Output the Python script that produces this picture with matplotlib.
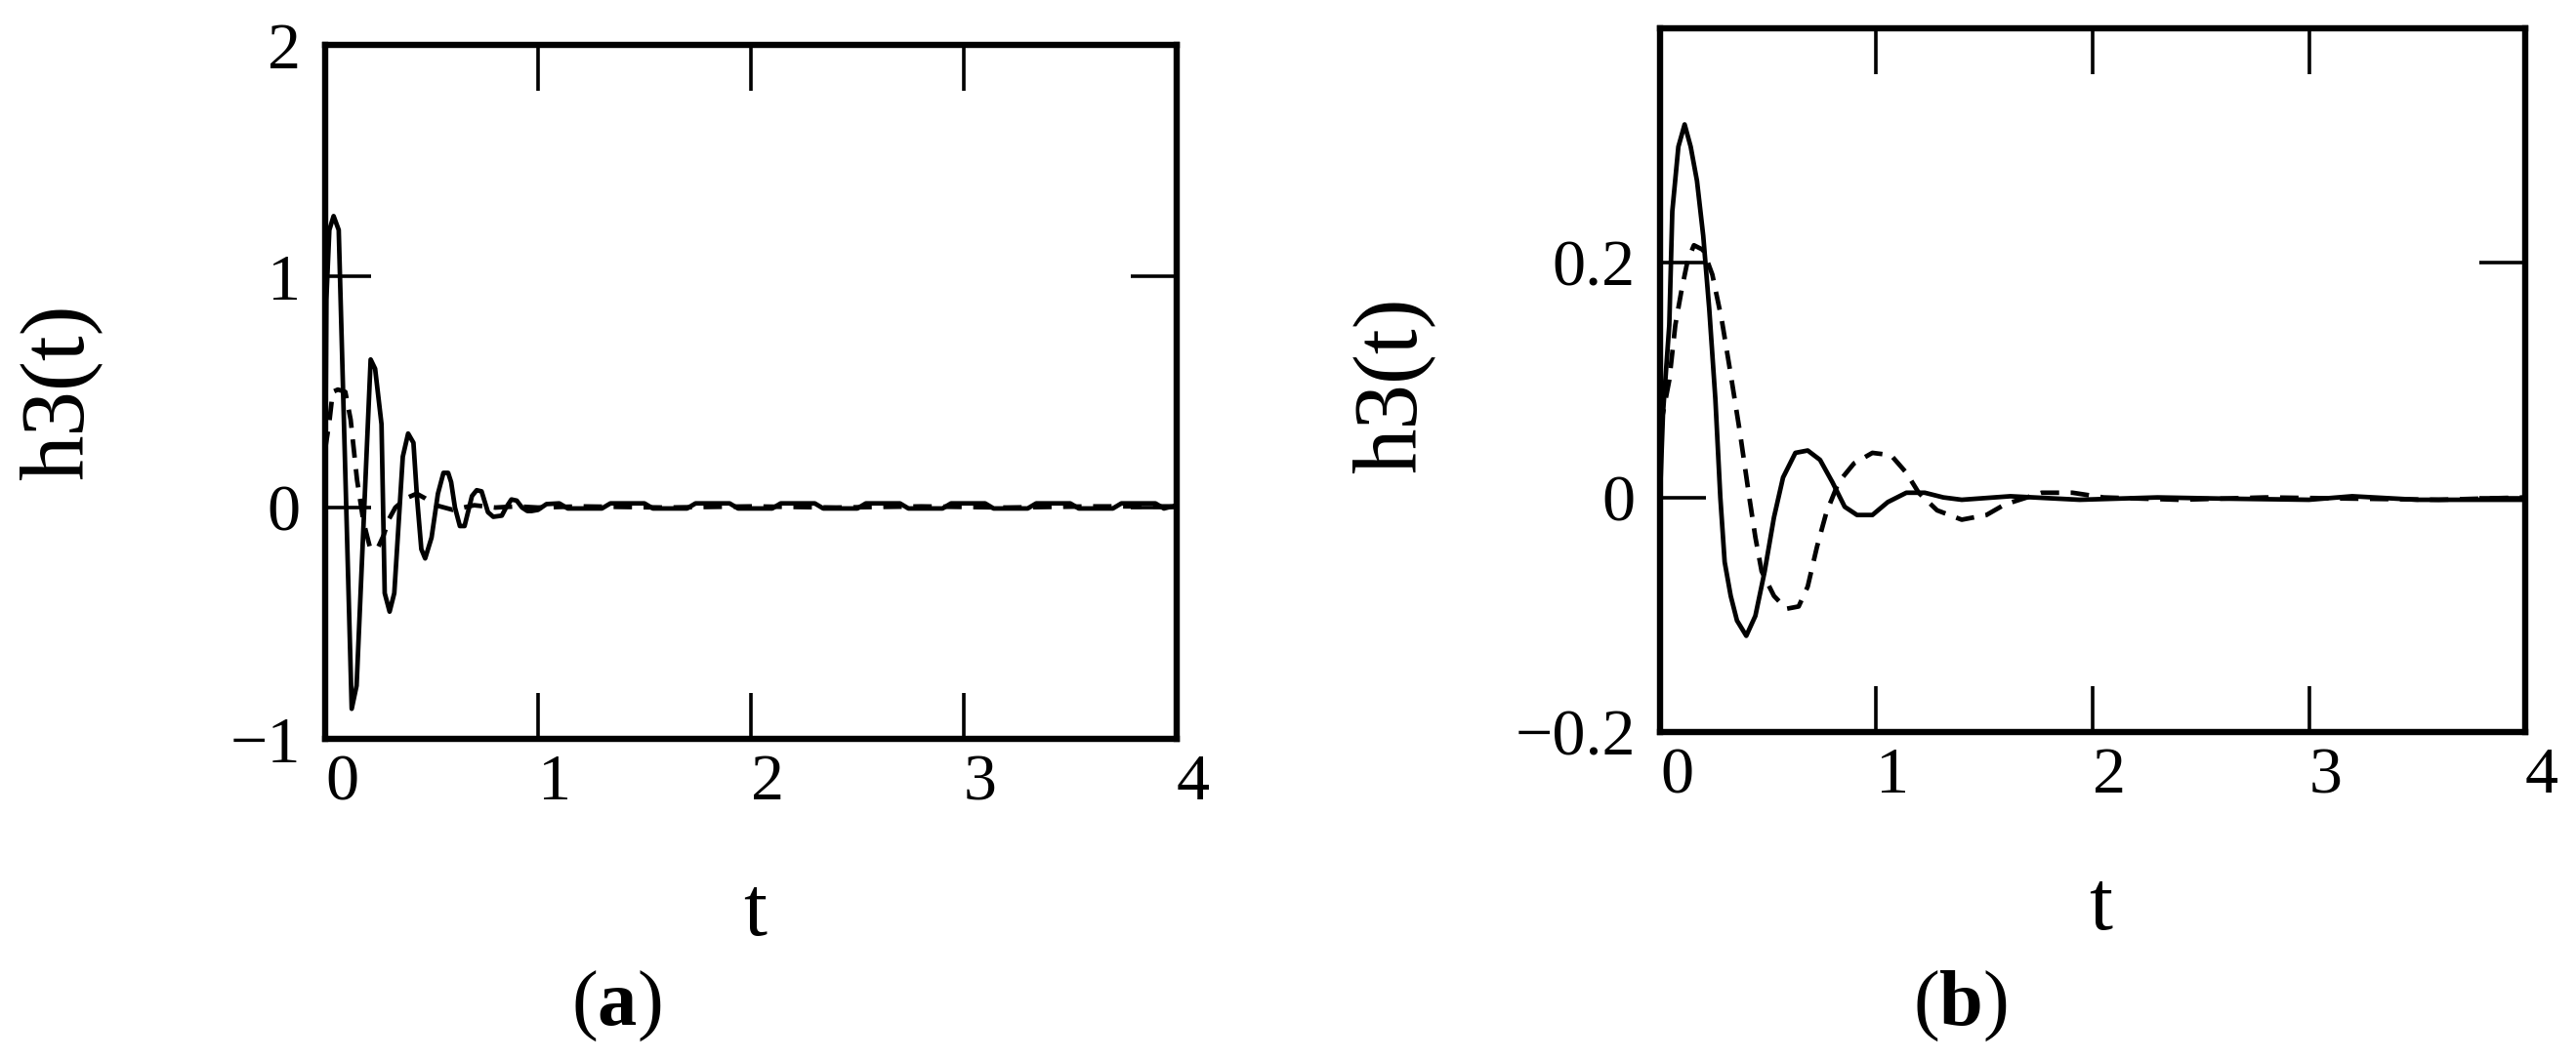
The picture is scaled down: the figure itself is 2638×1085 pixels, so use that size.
import matplotlib.pyplot as plt

plt.rcParams['font.family'] = ['Liberation Serif', 'DejaVu Serif']
plt.rcParams['mathtext.fontset'] = 'custom'
plt.rcParams['mathtext.rm'] = 'Liberation Serif'
plt.rcParams['mathtext.bf'] = 'Liberation Serif:bold'

# ---- panel (a): values ----
ta_solid = [0.0, 0.006, 0.02, 0.04, 0.064, 0.125, 0.148, 0.214, 0.235, 0.265, 0.28, 0.303,
            0.325, 0.365, 0.39, 0.415, 0.432, 0.452, 0.47, 0.5, 0.53, 0.556, 0.578, 0.592,
            0.61, 0.633, 0.655, 0.69, 0.712, 0.735, 0.765, 0.79, 0.83, 0.85, 0.875, 0.9,
            0.925, 0.95, 0.97, 1.0, 1.04,
            1.1, 1.14, 1.3, 1.34, 1.5, 1.54, 1.7, 1.74, 1.9, 1.94, 2.1, 2.14, 2.3, 2.34,
            2.5, 2.54, 2.7, 2.74, 2.9, 2.94, 3.1, 3.14, 3.3, 3.34, 3.5, 3.54, 3.7, 3.74,
            3.9, 3.94, 4.0]
ya_solid = [0.0, 0.9, 1.2, 1.26, 1.2, -0.87, -0.77, 0.64, 0.6, 0.36, -0.37, -0.45,
            -0.37, 0.22, 0.32, 0.28, 0.04, -0.18, -0.22, -0.13, 0.06, 0.15, 0.15, 0.11,
            0.0, -0.08, -0.08, 0.05, 0.075, 0.07, -0.02, -0.04, -0.035, 0.0, 0.035, 0.03,
            0.0, -0.015, -0.015, -0.01, 0.015,
            0.018, -0.004, -0.004, 0.018, 0.018, -0.004, -0.004, 0.018, 0.018, -0.004,
            -0.004, 0.018, 0.018, -0.004, -0.004, 0.018, 0.018, -0.004, -0.004, 0.018,
            0.018, -0.004, -0.004, 0.018, 0.018, -0.004, -0.004, 0.018, 0.018, -0.004,
            0.01]
ta_dash = [0.0, 0.02, 0.036, 0.06, 0.095, 0.12, 0.135, 0.15, 0.18, 0.21, 0.245, 0.275,
           0.3, 0.33, 0.38, 0.43, 0.47, 0.52, 0.6, 0.7, 0.8, 0.9, 1.0,
           1.2, 1.6, 2.0, 2.4, 2.8, 3.2, 3.6, 4.0]
ya_dash = [0.25, 0.37, 0.5, 0.51, 0.5, 0.38, 0.25, 0.12, -0.06, -0.17, -0.18, -0.12,
           -0.05, 0.0, 0.04, 0.06, 0.04, 0.01, -0.01, 0.01, 0.0, 0.005, 0.0,
           0.005, 0.0, 0.005, 0.0, 0.005, 0.0, 0.005, 0.005]

# ---- panel (b) ----
tb_solid = [0.0, 0.014, 0.043, 0.057, 0.085, 0.114, 0.142, 0.171, 0.2, 0.228, 0.256,
            0.279, 0.299, 0.327, 0.356, 0.399, 0.441, 0.484, 0.527, 0.569, 0.626, 0.683,
            0.74, 0.797, 0.854, 0.911, 0.982, 1.053, 1.139, 1.224, 1.31, 1.395, 1.62,
            1.94, 2.3, 2.6, 3.0, 3.2, 3.5, 4.0]
yb_solid = [0.0, 0.072, 0.147, 0.244, 0.299, 0.318, 0.299, 0.27, 0.223, 0.16, 0.084,
            0.0, -0.055, -0.084, -0.105, -0.118, -0.101, -0.063, -0.017, 0.017, 0.038,
            0.04, 0.032, 0.013, -0.008, -0.015, -0.015, -0.004, 0.004, 0.004, 0.0,
            -0.002, 0.001, -0.002, 0.0, -0.001, -0.002, 0.001, -0.002, -0.002]
tb_dash = [0.0, 0.014, 0.043, 0.071, 0.1, 0.128, 0.157, 0.2, 0.242, 0.285, 0.327, 0.37,
           0.413, 0.441, 0.47, 0.527, 0.584, 0.641, 0.683, 0.726, 0.769, 0.826, 0.897,
           0.982, 1.068, 1.139, 1.196, 1.281, 1.395, 1.509, 1.594, 1.765, 1.907, 2.05,
           2.4, 2.8, 3.2, 3.6, 4.0]
yb_dash = [0.06, 0.072, 0.1, 0.147, 0.177, 0.202, 0.215, 0.211, 0.19, 0.152, 0.105,
           0.055, 0.0, -0.034, -0.063, -0.084, -0.095, -0.093, -0.076, -0.042, -0.013,
           0.013, 0.029, 0.038, 0.036, 0.021, 0.004, -0.011, -0.019, -0.015, -0.006,
           0.004, 0.004, 0.0, -0.002, 0.0, -0.001, -0.002, 0.0]

xticks = [0, 1, 2, 3, 4]
yticks_a = [-1, 0, 1, 2]
yticklabels_a = ['\u22121', '0', '1', '2']
yticks_b = [-0.2, 0, 0.2]
yticklabels_b = ['\u22120.2', '0', '0.2']

fig = plt.figure(figsize=(26.38, 10.85), dpi=100)
ax1 = fig.add_axes([0.1262, 0.3023, 0.3306, 0.6553])
ax2 = fig.add_axes([0.6444, 0.3088, 0.3359, 0.6645])

dash = (0, (4, 2.5))

ax1.plot(ta_solid, ya_solid, color='black', lw=3.4)
ax1.plot(ta_dash, ya_dash, color='black', lw=3.4, linestyle=dash, dash_capstyle='butt')
ax1.set_xlim(0, 4)
ax1.set_ylim(-1, 2)
ax1.set_yticks(yticks_a)
ax1.set_yticklabels(yticklabels_a)

ax2.plot(tb_solid, yb_solid, color='black', lw=3.4)
ax2.plot(tb_dash, yb_dash, color='black', lw=3.4, linestyle=dash, dash_capstyle='butt')
ax2.set_xlim(0, 4)
ax2.set_ylim(-0.2, 0.4)
ax2.set_yticks(yticks_b)
ax2.set_yticklabels(yticklabels_b)

for ax in (ax1, ax2):
    ax.set_xticks(xticks)
    ax.set_xticklabels([str(v) for v in xticks])
    for s in ax.spines.values():
        s.set_linewidth(4.6)
    ax.tick_params(direction='in', length=34, width=2.6, top=True, right=True)
    ax.tick_params(axis='x', labelsize=49, pad=11)
    ax.tick_params(axis='y', labelsize=49, pad=18)
    for lab in ax.get_xticklabels():
        lab.set_horizontalalignment('left')

# axis labels and panel captions
fig.text(62 / 2638, 1 - 402 / 1085, 'h3(t)', rotation=90, ha='center', va='center', size=67)
fig.text(1427 / 2638, 1 - 395 / 1085, 'h3(t)', rotation=90, ha='center', va='center', size=67)
fig.text(773 / 2638, 1 - 958 / 1085, 't', ha='center', va='baseline', size=62)
fig.text(2151 / 2638, 1 - 952 / 1085, 't', ha='center', va='baseline', size=62)
fig.text(631 / 2638, 1 - 1050 / 1085, r'($\mathbf{a}$)', ha='center', va='baseline', size=58)
fig.text(2007 / 2638, 1 - 1050 / 1085, r'($\mathbf{b}$)', ha='center', va='baseline', size=58)

fig.savefig('out.png', dpi=100)
